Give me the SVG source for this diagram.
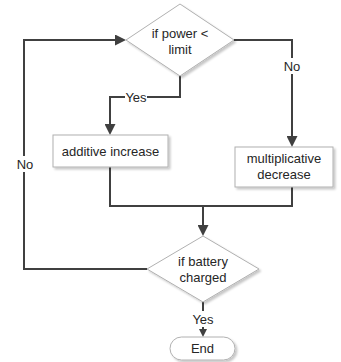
<svg xmlns="http://www.w3.org/2000/svg" width="341" height="362" viewBox="0 0 341 362">
<style>
.shape{fill:#fff;stroke:#b0b0b0;stroke-width:1}
.t{font-family:"Liberation Sans",Arial,sans-serif;font-size:13px;fill:#262626;text-anchor:middle}
.c{fill:none;stroke:#404040;stroke-width:2}
.lbg{fill:#fff}
</style>
<defs>
<filter id="sh" x="-20%" y="-20%" width="140%" height="150%">
<feDropShadow dx="2" dy="2" stdDeviation="1.2" flood-color="#000" flood-opacity="0.22"/>
</filter>
<marker id="ah" markerUnits="userSpaceOnUse" markerWidth="11" markerHeight="11" refX="8" refY="5.5" orient="auto">
<path d="M0,0 L11,5.5 L0,11 z" fill="#404040"/>
</marker>
<marker id="ahs" markerUnits="userSpaceOnUse" markerWidth="8" markerHeight="8" refX="6" refY="4" orient="auto">
<path d="M0,0 L8,4 L0,8 z" fill="#404040"/>
</marker>
</defs>
<g id="connectors">
<path class="c" d="M147,269 H24 V40 H123" marker-end="url(#ah)"/>
<path class="c" d="M234,40 H292 V144" marker-end="url(#ah)"/>
<path class="c" d="M180,76 V97 H110 V132" marker-end="url(#ah)"/>
<path class="c" d="M110,167 V206 H292 V187"/>
<path class="c" d="M203,206 V233" marker-end="url(#ah)"/>
<path class="c" d="M203,302 V335" marker-end="url(#ahs)"/>
<rect class="lbg" x="125" y="90" width="22" height="14"/>
<text class="t" x="136" y="101.5">Yes</text>
<rect class="lbg" x="283" y="58" width="18" height="16"/>
<text class="t" x="292" y="70.5">No</text>
<rect class="lbg" x="15" y="156" width="18" height="16"/>
<text class="t" x="25" y="168.5">No</text>
<rect class="lbg" x="191" y="311" width="24" height="16"/>
<text class="t" x="203" y="323.5">Yes</text>
</g>
<g id="decision1">
<polygon class="shape" filter="url(#sh)" points="180,4 234,40 180,76 126,40"/>
<text class="t" x="180" y="37.5">if power &lt;</text>
<text class="t" x="180" y="53.5">limit</text>
</g>
<g id="additive">
<rect class="shape" filter="url(#sh)" x="53" y="135" width="115" height="32"/>
<text class="t" x="110.5" y="155.5">additive increase</text>
</g>
<g id="multiplicative">
<rect class="shape" filter="url(#sh)" x="235" y="147" width="98" height="40"/>
<text class="t" x="284" y="162.5">multiplicative</text>
<text class="t" x="284" y="179">decrease</text>
</g>
<g id="decision2">
<polygon class="shape" filter="url(#sh)" points="203,236 259,269 203,302 147,269"/>
<text class="t" x="203" y="266">if battery</text>
<text class="t" x="203" y="282">charged</text>
</g>
<g id="end">
<rect class="shape" filter="url(#sh)" x="170" y="337" width="65" height="23" rx="11.5" ry="11.5"/>
<text class="t" x="202.5" y="353">End</text>
</g>
</svg>
